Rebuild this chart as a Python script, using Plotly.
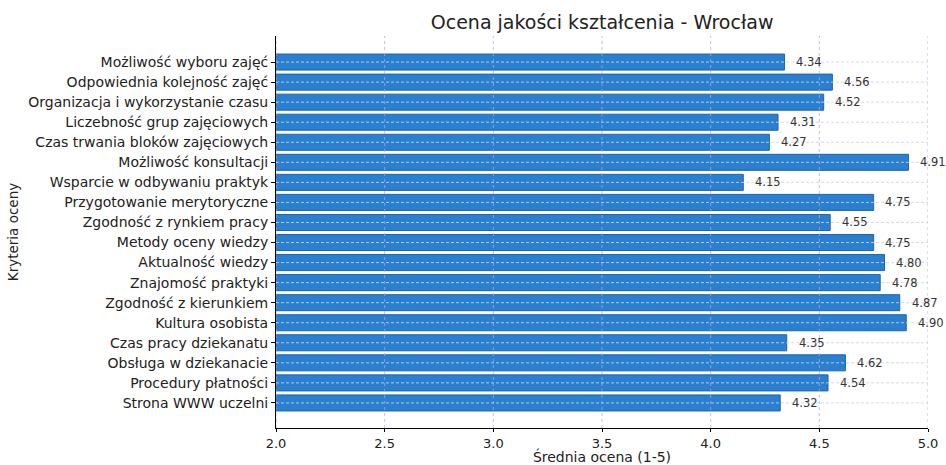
import plotly.graph_objects as go

categories = [
    "Możliwość wyboru zajęć",
    "Odpowiednia kolejność zajęć",
    "Organizacja i wykorzystanie czasu",
    "Liczebność grup zajęciowych",
    "Czas trwania bloków zajęciowych",
    "Możliwość konsultacji",
    "Wsparcie w odbywaniu praktyk",
    "Przygotowanie merytoryczne",
    "Zgodność z rynkiem pracy",
    "Metody oceny wiedzy",
    "Aktualność wiedzy",
    "Znajomość praktyki",
    "Zgodność z kierunkiem",
    "Kultura osobista",
    "Czas pracy dziekanatu",
    "Obsługa w dziekanacie",
    "Procedury płatności",
    "Strona WWW uczelni",
]
scores = [4.34, 4.56, 4.52, 4.31, 4.27, 4.91, 4.15, 4.75, 4.55,
          4.75, 4.80, 4.78, 4.87, 4.90, 4.35, 4.62, 4.54, 4.32]
x_ticks = [2.0, 2.5, 3.0, 3.5, 4.0, 4.5, 5.0]
x_tick_labels = ["2.0", "2.5", "3.0", "3.5", "4.0", "4.5", "5.0"]

FONT = "DejaVu Sans"
BAR = "#2b7fcf"

fig = go.Figure()
fig.add_trace(go.Bar(
    x=scores, y=categories, orientation="h", width=0.8,
    marker=dict(color=BAR, line=dict(color="#1c64b0", width=1)),
    hoverinfo="x+y",
))

annotations = []
for c, v in zip(categories, scores):
    annotations.append(dict(
        x=v + 0.045, y=c, xref="x", yref="y", text=f"{v:.2f}",
        showarrow=False, xanchor="left", yanchor="middle",
        font=dict(family=FONT, size=11.5, color="#333333"),
    ))

shapes = []
for t in x_ticks:
    shapes.append(dict(type="line", xref="x", yref="paper", x0=t, x1=t, y0=0, y1=1,
                       layer="above", line=dict(color="rgba(170,170,225,0.75)", width=1, dash="dot")))
for c in categories:
    shapes.append(dict(type="line", xref="paper", yref="y", x0=0, x1=1, y0=c, y1=c,
                       layer="above", line=dict(color="rgba(205,210,228,0.85)", width=1, dash="3px,2px")))

n = len(categories)
fig.update_layout(
    width=946, height=465,
    margin=dict(l=276, r=18, t=36, b=37, autoexpand=False),
    paper_bgcolor="white", plot_bgcolor="white",
    font=dict(family=FONT, size=13, color="#222222"),
    title=dict(text="Ocena jakości kształcenia - Wrocław", x=0.6365, xanchor="center",
               y=0.953, yanchor="middle", font=dict(family=FONT, size=19, color="#222222")),
    showlegend=False,
    bargap=0.2,
    annotations=annotations,
    shapes=shapes,
    xaxis=dict(range=[2.0, 5.0], tickvals=x_ticks, ticktext=x_tick_labels, automargin=False,
               showgrid=False, zeroline=False, showline=True, linecolor="black", linewidth=1,
               ticks="outside", ticklen=3, tickcolor="black",
               tickfont=dict(family=FONT, size=13, color="#222222"),
               title=dict(text="Średnia ocena (1-5)", font=dict(family=FONT, size=14), standoff=3)),
    yaxis=dict(categoryorder="array", categoryarray=categories, automargin=False,
               range=[n - 1 + 1.25, -1.3],
               showgrid=False, zeroline=False, showline=True, linecolor="black", linewidth=1,
               ticks="outside", ticklen=4, tickcolor="black",
               tickfont=dict(family=FONT, size=14, color="#222222"),
               title=dict(text="Kryteria oceny", font=dict(family=FONT, size=13.5), standoff=6)),
)

fig.write_html("out.html", config={"displayModeBar": False},
               post_script="document.body.style.margin='0';document.body.style.overflow='hidden';")
